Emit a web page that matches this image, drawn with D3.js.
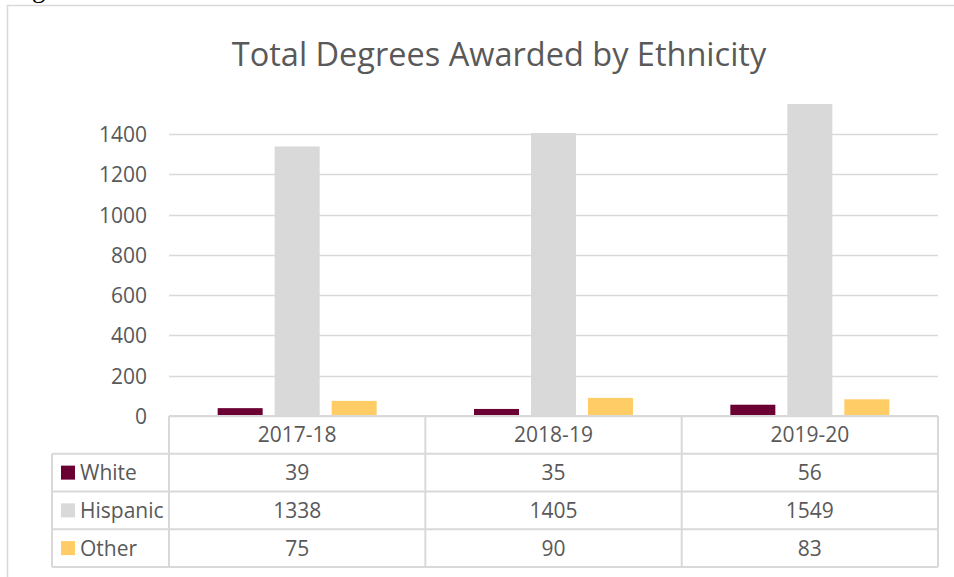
<!DOCTYPE html>
<html>
<head>
<meta charset="utf-8">
<script src="https://cdn.jsdelivr.net/npm/d3@7/dist/d3.min.js"></script>
<style>
html,body{margin:0;padding:0;background:#fff;overflow:hidden;}
svg{display:block;}
text{font-family:"Open Sans","Liberation Sans",sans-serif;fill:#595959;}
</style>
</head>
<body>
<svg id="chart" width="954" height="577"></svg>
<script>
const title = "Total Degrees Awarded by Ethnicity";
const categories = ["2017-18", "2018-19", "2019-20"];
const seriesNames = ["White", "Hispanic", "Other"];
const white = [39, 35, 56];
const hispanic = [1338, 1405, 1549];
const other = [75, 90, 83];
const yTicks = [0, 200, 400, 600, 800, 1000, 1200, 1400];
const colors = ["#6B0033", "#D9D9D9", "#FFCC66"];

const seriesValues = [white, hispanic, other];

const svg = d3.select("#chart");
const W = 954, H = 577;

// stray text from the page above (cut off)
svg.append("text").attr("x", 32).attr("y", -3)
  .style("font-family", "'Liberation Serif', serif").style("fill", "#000")
  .style("font-size", "27px").text("g");

// chart border
svg.append("rect").attr("x", 7.5).attr("y", 5.5).attr("width", W).attr("height", H)
  .attr("fill", "none").attr("stroke", "#D9D9D9").attr("stroke-width", 1.5);

const plotL = 169, plotR = 938, plotT = 134, plotB = 416;

const x0 = d3.scaleBand().domain(categories).range([plotL, plotR]).paddingInner(0).paddingOuter(0);
const groupW = 159;
const x1 = d3.scaleBand().domain(seriesNames)
  .range([(x0.bandwidth() - groupW) / 2, (x0.bandwidth() + groupW) / 2])
  .paddingInner(0.2105).paddingOuter(0);
const y = d3.scaleLinear().domain([0, 1400]).range([plotB, plotT]);

// title
svg.append("text").attr("x", 499).attr("y", 66).attr("text-anchor", "middle")
  .style("font-size", "32.5px").text(title);

// gridlines
svg.append("g").selectAll("line").data(yTicks).join("line")
  .attr("x1", plotL).attr("x2", plotR)
  .attr("y1", d => Math.round(y(d)) + 0.5).attr("y2", d => Math.round(y(d)) + 0.5)
  .attr("stroke", "#D9D9D9").attr("stroke-width", 1.5);

// y axis
const yAxis = d3.axisLeft(y).tickValues(yTicks).tickSize(0).tickPadding(0).tickFormat(d3.format("d"));
const ya = svg.append("g").attr("transform", `translate(147,0)`).call(yAxis);
ya.select(".domain").remove();
ya.selectAll("text").style("font-size", "21px").style("fill", "#595959")
  .style("font-family", "'Open Sans','Liberation Sans',sans-serif").attr("dy", "0.36em");

// bars
const groups = svg.append("g").selectAll("g").data(categories).join("g")
  .attr("transform", d => `translate(${x0(d)},0)`);
groups.selectAll("rect").data((c, ci) => seriesNames.map((s, si) => ({s, si, v: seriesValues[si][ci]})))
  .join("rect")
  .attr("x", d => x1(d.s)).attr("width", x1.bandwidth())
  .attr("y", d => y(d.v)).attr("height", d => y(0) - y(d.v))
  .attr("fill", d => colors[d.si]);

// data table
const rowH = 37.75;
const tableTop = plotB;
const legL = 52;
const lineC = "#D9D9D9";
const tg = svg.append("g");
const rowY = i => tableTop + rowH * i;

// horizontal lines
tg.append("line").attr("x1", plotL).attr("x2", plotR).attr("y1", rowY(0)).attr("y2", rowY(0))
  .attr("stroke", lineC).attr("stroke-width", 2);
for (let i = 1; i <= 4; i++) {
  tg.append("line").attr("x1", legL).attr("x2", plotR).attr("y1", rowY(i)).attr("y2", rowY(i))
    .attr("stroke", lineC).attr("stroke-width", 2);
}
// vertical lines
tg.append("line").attr("x1", legL).attr("x2", legL).attr("y1", rowY(1)).attr("y2", rowY(4))
  .attr("stroke", lineC).attr("stroke-width", 2);
const vx = [plotL].concat(categories.map(c => x0(c) + x0.bandwidth()));
vx.forEach(xv => {
  tg.append("line").attr("x1", xv).attr("x2", xv).attr("y1", rowY(0)).attr("y2", rowY(4))
    .attr("stroke", lineC).attr("stroke-width", 2);
});

// header
tg.selectAll("text.hdr").data(categories).join("text").attr("class", "hdr")
  .attr("x", d => x0(d) + x0.bandwidth() / 2).attr("y", rowY(0.5)).attr("dy", "0.36em")
  .attr("text-anchor", "middle").style("font-size", "21px").text(d => d);

// rows
seriesNames.forEach((s, si) => {
  const cy = rowY(si + 1.5);
  tg.append("rect").attr("x", 61).attr("y", cy - 7).attr("width", 14).attr("height", 14)
    .attr("fill", colors[si]);
  tg.append("text").attr("x", 80).attr("y", cy).attr("dy", "0.36em")
    .style("font-size", "21px").text(s);
  categories.forEach((c, ci) => {
    tg.append("text").attr("x", x0(c) + x0.bandwidth() / 2).attr("y", cy).attr("dy", "0.36em")
      .attr("text-anchor", "middle").style("font-size", "21px").text(seriesValues[si][ci]);
  });
});
</script>
</body>
</html>
